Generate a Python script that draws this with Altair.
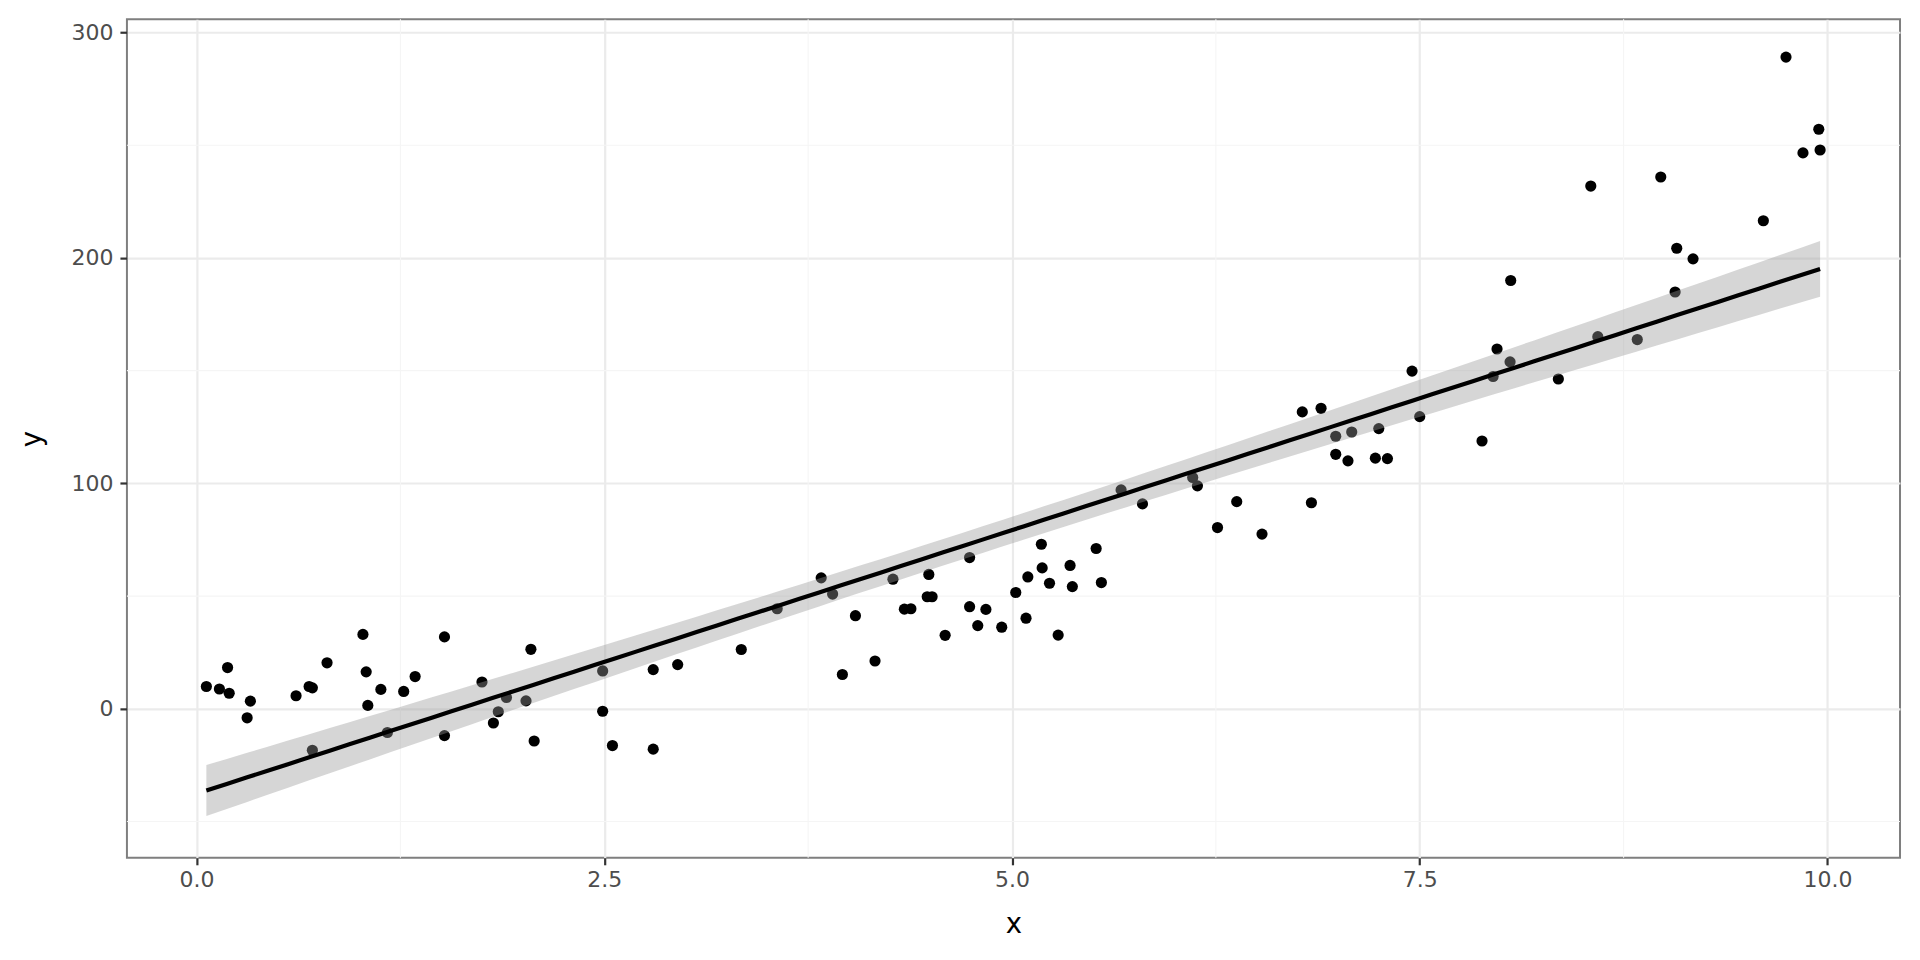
import numpy as np
import pandas as pd
import altair as alt

# ---- data ----
x_vals = [
    0.06, 0.14, 0.19, 0.20, 0.31, 0.33, 0.61, 0.69, 0.71, 0.71,
    0.80, 1.02, 1.04, 1.05, 1.13, 1.17, 1.27, 1.34, 1.52, 1.52,
    1.75, 1.82, 1.85, 1.90, 2.02, 2.05, 2.07,
    2.49, 2.49, 2.55, 2.80, 2.80, 2.95,
    3.34, 3.56, 3.83, 3.90, 3.96,
    4.04, 4.16, 4.27, 4.34, 4.38, 4.49, 4.48, 4.51, 4.59, 4.74, 4.74, 4.79, 4.84,
    4.937,
    5.086, 5.023, 5.097, 5.18, 5.185, 5.23, 5.283, 5.356, 5.37, 5.516, 5.548, 5.669, 5.80,
    6.108, 6.137, 6.26, 6.378, 6.533, 6.78, 6.836, 6.895, 6.985, 6.985, 7.06, 7.083,
    7.228, 7.249, 7.302, 7.453, 7.50,
    7.882, 7.95, 7.974, 8.054, 8.058, 8.35, 8.549, 8.592, 8.834, 8.978, 9.066, 9.076,
    9.176, 9.607, 9.746, 9.85, 9.947, 9.955,
]
y_vals = [
    9.9, 8.8, 18.3, 6.9, -4.0, 3.4, 5.8, 9.9, 9.3, -18.4,
    20.4, 33.0, 16.4, 1.5, 8.6, -10.5, 7.7, 14.3, 31.9, -11.9,
    11.9, -6.3, -1.3, 5.0, 3.5, 26.4, -14.3,
    16.8, -1.1, -16.3, -17.9, 17.4, 19.6,
    26.3, 44.4, 58.1, 50.9, 15.2,
    41.3, 21.2, 57.5, 44.2, 44.4, 59.6, 49.7, 49.7, 32.6, 67.1, 45.3, 36.9, 44.1,
    36.2,
    40.2, 51.6, 58.5, 73.0, 62.5, 55.7, 32.7, 63.6, 54.2, 71.1, 56.0, 97.1, 90.9,
    102.6, 98.9, 80.4, 91.9, 77.5, 131.7, 91.4, 133.3, 120.9, 112.9, 110.0, 122.8,
    111.2, 124.3, 111.0, 149.8, 129.6,
    118.8, 147.4, 159.6, 153.9, 190.0, 146.3, 231.9, 165.1, 163.8, 235.9, 184.9, 204.3,
    199.6, 216.5, 289.1, 246.6, 257.1, 247.9,
]
x_major = [0, 2.5, 5, 7.5, 10]
y_major = [0, 100, 200, 300]
x_minor = [1.25, 3.75, 6.25, 8.75]
y_minor = [-50, 50, 150, 250]

pts = pd.DataFrame({"x": x_vals, "y": y_vals})

# ---- linear model fit with 95% confidence band (as geom_smooth(method="lm")) ----
xa = np.array(x_vals)
ya = np.array(y_vals)
n = len(xa)
b1, b0 = np.polyfit(xa, ya, 1)
resid = ya - (b0 + b1 * xa)
s = np.sqrt(np.sum(resid ** 2) / (n - 2))
sxx = np.sum((xa - xa.mean()) ** 2)
t_crit = 1.9845  # t(0.975, df=98)
xg = np.linspace(xa.min(), xa.max(), 80)
fit = b0 + b1 * xg
se = s * np.sqrt(1.0 / n + (xg - xa.mean()) ** 2 / sxx)
smooth = pd.DataFrame({"x": xg, "fit": fit, "lo": fit - t_crit * se, "hi": fit + t_crit * se})

W, H = 1774, 839
xscale = alt.Scale(domain=[-0.427, 10.445], nice=False, zero=False)
yscale = alt.Scale(domain=[-66.1, 305.9], nice=False, zero=False)

FONT = "DejaVu Sans"

x_axis = alt.Axis(
    values=x_major, format=".1f", title="x",
    labelFontSize=22, labelColor="#4d4d4d", labelFont=FONT, labelPadding=5,
    tickColor="#333333", tickWidth=2.2, tickSize=7, domain=False,
    grid=True, gridColor="#ebebeb", gridWidth=2.2,
    titleFont=FONT, titleFontSize=27.5, titleFontWeight="normal", titleColor="#000000",
    titleBaseline="alphabetic", titleY=75,
)
y_axis = alt.Axis(
    values=y_major, format="d", title="y",
    labelFontSize=22, labelColor="#4d4d4d", labelFont=FONT, labelPadding=7,
    tickColor="#333333", tickWidth=2.2, tickSize=7, domain=False,
    grid=True, gridColor="#ebebeb", gridWidth=2.2,
    titleFont=FONT, titleFontSize=27.5, titleFontWeight="normal", titleColor="#000000",
    titleBaseline="alphabetic", titleX=-86, titleY=H / 2,
)

minor_x = alt.Chart(pd.DataFrame({"v": x_minor})).mark_rule(
    color="#f5f5f5", strokeWidth=1.1
).encode(x=alt.X("v:Q", scale=xscale, axis=x_axis, title="x"))
minor_y = alt.Chart(pd.DataFrame({"v": y_minor})).mark_rule(
    color="#f5f5f5", strokeWidth=1.1
).encode(y=alt.Y("v:Q", scale=yscale, axis=y_axis, title="y"))

points = alt.Chart(pts).mark_circle(size=125, color="#000000", opacity=1).encode(
    x=alt.X("x:Q", scale=xscale, axis=x_axis, title="x"),
    y=alt.Y("y:Q", scale=yscale, axis=y_axis, title="y"),
)

band = alt.Chart(smooth).mark_area(color="#999999", opacity=0.4).encode(
    x=alt.X("x:Q", scale=xscale, axis=x_axis, title="x"),
    y=alt.Y("lo:Q", scale=yscale, axis=y_axis, title="y"),
    y2="hi:Q",
)

line = alt.Chart(smooth).mark_line(color="#000000", strokeWidth=4.2).encode(
    x=alt.X("x:Q", scale=xscale, axis=x_axis, title="x"),
    y=alt.Y("fit:Q", scale=yscale, axis=y_axis, title="y"),
)

chart = alt.layer(minor_x, minor_y, points, band, line).properties(
    width=W, height=H,
    autosize=alt.AutoSizeParams(type="none"),
    padding={"left": 119, "top": 11, "right": 12, "bottom": 94},
    background="#ffffff",
).configure_view(
    stroke="#7f7f7f", strokeWidth=2
)

chart.save("out.html", embed_options={"renderer": "svg", "actions": False})
